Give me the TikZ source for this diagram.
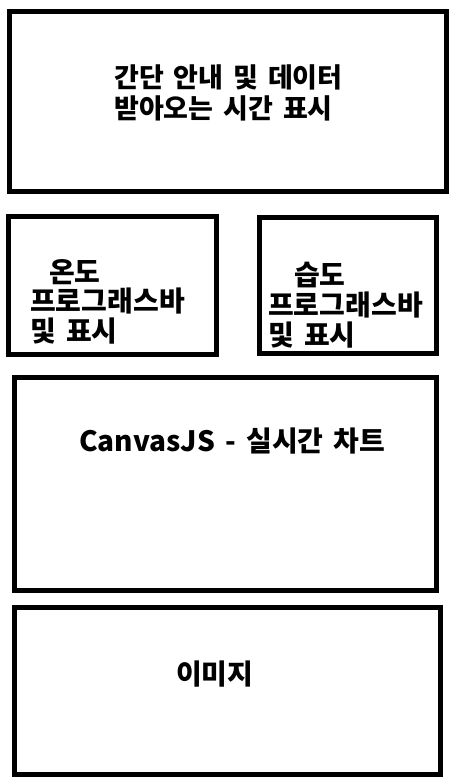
\documentclass[tikz,border=0pt]{standalone}
\usepackage{fontspec}
\newfontfamily\krfont{Noto Sans CJK KR}[WordSpace=1.6]
\usepackage{tikz}
\usetikzlibrary{positioning}

\begin{document}
\begin{tikzpicture}[x=1pt,y=-1pt]
        \tikzstyle{pbox} = [draw=black, line width=5pt, rectangle, inner sep=0pt, outer sep=0pt]
        \tikzstyle{ptext} = [inner sep=0pt, anchor=base west, align=left, font=\krfont\bfseries\fontsize{28}{29.5}\selectfont]
        \useasboundingbox (0,0) rectangle (463,784);

        \node[pbox, minimum width=437pt, minimum height=179pt] (info) at (227.5,101.5) {};
        \node[pbox, minimum width=208pt, minimum height=138pt] (temp) at (112.5,285.5) {};
        \node[pbox, minimum width=177pt, minimum height=136pt] (humi) at (348,285.5) {};
        \node[pbox, minimum width=422pt, minimum height=213pt] (chart) at (225.5,484) {};
        \node[pbox, minimum width=426pt, minimum height=167pt] (img) at (227.5,691) {};

        % base anchor sits on the last line
        \node[ptext, font=\krfont\bfseries\fontsize{27}{31}\selectfont] (infotxt) at (114,118) {간단 안내 및 데이터\\받아오는 시간 표시};
        \node[ptext] (temptxt) at (30,341) {\hspace*{19pt}온도\\프로그래스바\\및 표시};
        \node[ptext, font=\krfont\bfseries\fontsize{28}{30}\selectfont] (humitxt) at (268,345) {\hspace*{26pt}습도\\프로그래스바\\및 표시};
        \node[ptext] (charttxt) at (79,451) {CanvasJS - 실시간 차트};
        \node[ptext] (imgtxt) at (176,684) {이미지};
      \end{tikzpicture}
\end{document}
